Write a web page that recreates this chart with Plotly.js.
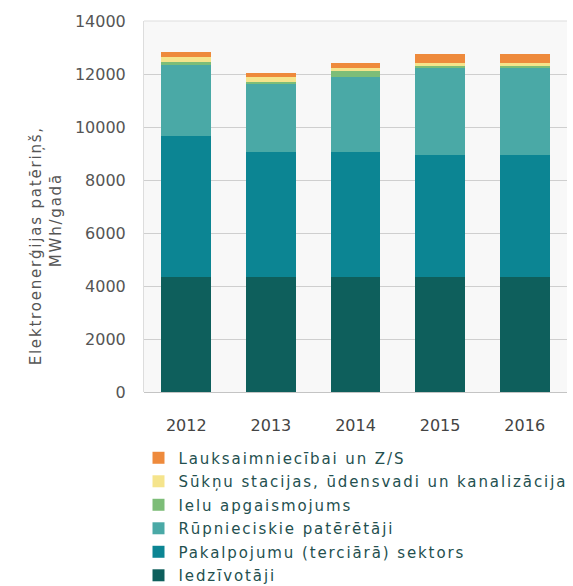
<!DOCTYPE html>
<html>
<head>
<meta charset="utf-8">
<script src="https://cdn.plot.ly/plotly-3.0.1.min.js"></script>
<style>
html,body{margin:0;padding:0;background:#fff;}
#chart{width:573px;height:586px;}
#chart .legendtext{letter-spacing:1.9px;}
#chart .annotation-text{letter-spacing:1.8px;}
</style>
</head>
<body>
<div id="chart"></div>
<script>
const years = ["2012", "2013", "2014", "2015", "2016"];
const seriesNames = [
  "Iedzīvotāji",
  "Pakalpojumu (terciārā) sektors",
  "Rūpnieciskie patērētāji",
  "Ielu apgaismojums",
  "Sūkņu stacijas, ūdensvadi un kanalizācija",
  "Lauksaimniecībai un Z/S"
];
const iedzivotaji   = [4350, 4350, 4350, 4350, 4350];
const pakalpojumu   = [5320, 4700, 4700, 4590, 4590];
const rupnieciskie  = [2670, 2580, 2830, 3280, 3280];
const ieluApgaism   = [110, 80, 230, 70, 70];
const suknuStacijas = [200, 170, 130, 110, 110];
const lauksaimn     = [190, 150, 170, 350, 350];
const yTicks = [0, 2000, 4000, 6000, 8000, 10000, 12000, 14000];
const yTitleLines = ["Elektroenerģijas patēriņš,", "MWh/gadā"];

const seriesValues = [iedzivotaji, pakalpojumu, rupnieciskie, ieluApgaism, suknuStacijas, lauksaimn];
const colors = ["#0e5f5c", "#0c8593", "#4aa9a6", "#7dbd78", "#f5e48c", "#ee8a3c"];

const traces = seriesNames.map((name, i) => ({
  type: "bar",
  name: name,
  x: years,
  y: seriesValues[i],
  legendgroup: "g" + i,
  legendrank: 100 - i,
  marker: {color: colors[i], line: {width: 0}},
  hoverinfo: "x+y+name"
}));

const layout = {
  width: 573,
  height: 586,
  barmode: "stack",
  bargap: 0.41,
  paper_bgcolor: "#ffffff",
  plot_bgcolor: "#f8f8f8",
  font: {family: "DejaVu Sans, sans-serif", color: "#555"},
  margin: {l: 144, r: 6, t: 21, b: 194, autoexpand: false},
  showlegend: true,
  legend: {
    orientation: "v",
    traceorder: "grouped",
    tracegroupgap: 1,
    x: -0.013, xanchor: "left",
    y: -0.1335, yanchor: "top",
    font: {size: 15, color: "#24504f"},
    itemwidth: 30,
    bgcolor: "rgba(0,0,0,0)"
  },
  xaxis: {
    type: "category",
    range: [-0.5, 4.5],
    showgrid: false,
    showline: false,
    ticks: "",
    tickfont: {size: 16, color: "#444"},
    ticklabelstandoff: 22
  },
  yaxis: {
    range: [0, 14000],
    tickvals: yTicks,
    ticktext: yTicks.map(String),
    showgrid: true,
    gridcolor: "#cfcfcf",
    gridwidth: 1,
    zeroline: true,
    zerolinecolor: "#c4c4c4",
    showline: true,
    linecolor: "#dddddd",
    mirror: false,
    ticks: "",
    tickfont: {size: 16, color: "#555"},
    ticklabelstandoff: 14
  },
  annotations: [
    {
      text: yTitleLines[0], xref: "paper", yref: "paper",
      x: -0.2553, y: 0.3936, xanchor: "center", yanchor: "middle",
      textangle: -90, showarrow: false,
      font: {size: 15, color: "#555"}
    },
    {
      text: yTitleLines[1], xref: "paper", yref: "paper",
      x: -0.208, y: 0.4636, xanchor: "center", yanchor: "middle",
      textangle: -90, showarrow: false,
      font: {size: 15, color: "#555"}
    }
  ],
  shapes: [{
    type: "line", xref: "paper", yref: "paper",
    x0: 0, x1: 1, y0: 1, y1: 1,
    line: {color: "#dddddd", width: 1}
  }]
};

Plotly.newPlot("chart", traces, layout, {displayModeBar: false, staticPlot: true}).then(gd => {
  gd.querySelectorAll(".legend .scrollbox").forEach(el => el.removeAttribute("clip-path"));
  gd.querySelectorAll(".legend").forEach(el => el.removeAttribute("clip-path"));
});
</script>
</body>
</html>
